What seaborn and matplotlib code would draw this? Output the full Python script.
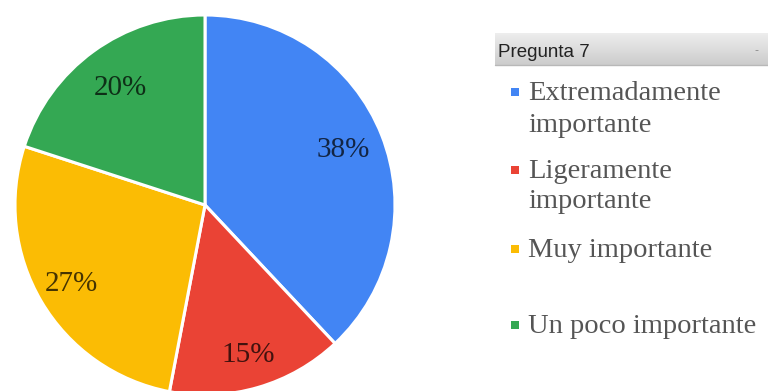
import numpy as np
import matplotlib
matplotlib.use("Agg")
import matplotlib.pyplot as plt
import seaborn as sns

# Survey answers for question 7 (share of responses, %)
categories = ["Extremadamente importante", "Ligeramente importante",
              "Muy importante", "Un poco importante"]
legend_lines = [["Extremadamente", "importante"],
                ["Ligeramente", "importante"],
                ["Muy importante"],
                ["Un poco importante"]]
values = [38, 15, 27, 20]
title = "Pregunta 7"

sns.set_theme(style="white")
colors = sns.color_palette(["#4285F4", "#EA4335", "#FBBC04", "#34A853"])

W, H = 768, 391
fig = plt.figure(figsize=(W / 100, H / 100), dpi=100)
fig.patch.set_facecolor("white")

# Pie area: centre (205, 205) px, radius 190 px
cx, cy, r = 205, 205, 190
ax = fig.add_axes([(cx - r) / W, (H - cy - r) / H, 2 * r / W, 2 * r / H])
wedges, _ = ax.pie(values, colors=colors, startangle=90, counterclock=False,
                   radius=1.0,
                   wedgeprops=dict(edgecolor="white", linewidth=2.2))
ax.set_xlim(-1, 1)
ax.set_ylim(-1, 1)
ax.set_aspect("equal")
ax.axis("off")

# Percentage labels inside each slice
label_r = [0.78, 0.82, 0.82, 0.76]
for w, v, lr in zip(wedges, values, label_r):
    ang = np.deg2rad((w.theta1 + w.theta2) / 2)
    ax.text(lr * np.cos(ang), lr * np.sin(ang), f"{v}%",
            ha="center", va="center", fontsize=21,
            family="Liberation Serif", color="black", alpha=0.72)

# Legend panel with header bar
lg = fig.add_axes([0, 0, 1, 1])
lg.set_xlim(0, W)
lg.set_ylim(H, 0)
lg.axis("off")

grad = np.linspace(0.93, 0.80, 64).reshape(-1, 1)
lg.imshow(grad, cmap="gray", vmin=0, vmax=1, aspect="auto",
          extent=(495, W, 65, 33), zorder=1)
lg.plot([495, W], [65, 65], color="#b8b8b8", lw=1, zorder=2)
lg.text(498, 57, title, fontsize=13.5, family="Liberation Sans",
        color="#222222", va="baseline", ha="left", zorder=3)
lg.text(756, 50, "-", fontsize=8, family="DejaVu Sans",
        color="#888888", va="center", ha="center", zorder=3)

baselines = [[100, 132], [178, 208], [257], [333]]
for lines, base, col in zip(legend_lines, baselines, colors):
    lg.scatter([515], [base[0] - 8], marker="s", s=36, color=col,
               linewidths=0, zorder=3)
    for txt, b in zip(lines, base):
        lg.text(528, b, txt, fontsize=20.5, family="Liberation Serif",
                color="#555555", va="baseline", ha="left", zorder=3)

fig.savefig("out.png", dpi=100, facecolor="white")
